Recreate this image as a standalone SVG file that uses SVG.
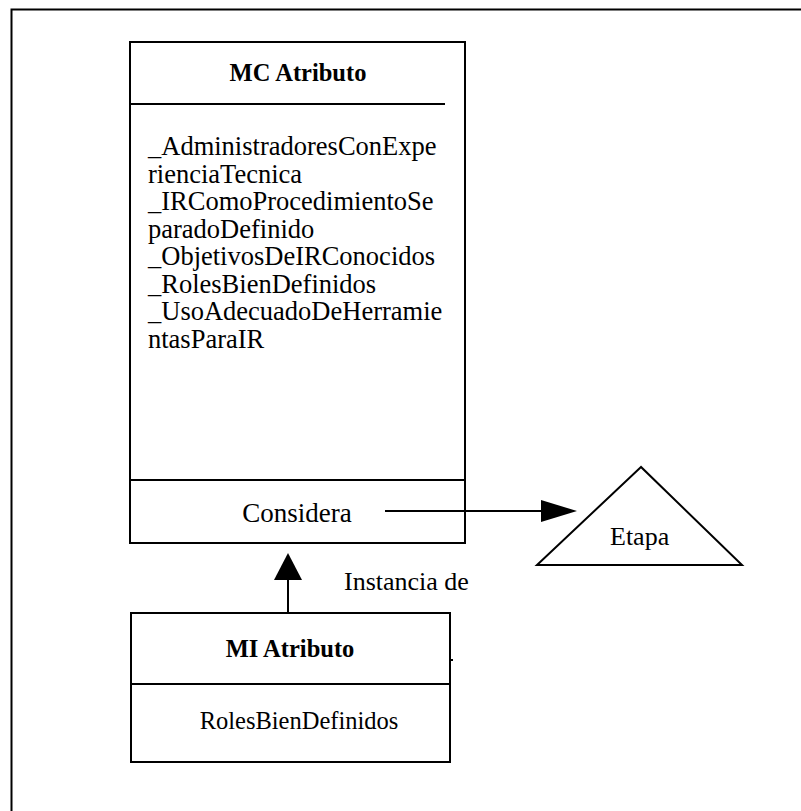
<svg xmlns="http://www.w3.org/2000/svg" width="801" height="811" viewBox="0 0 801 811">
  <style>
    .line { fill: none; stroke: #000; stroke-width: 2; }
    .box { fill: #fff; stroke: #000; stroke-width: 2; }
  </style>
  <rect width="801" height="811" fill="#fff"/>

  <!-- page frame (top and left edges) -->
  <path class="line" d="M11.5,811 V9.5 H801"/>

  <g font-family="Liberation Serif, Times New Roman, serif" fill="#000">
    <!-- class box: MC Atributo -->
    <g id="mc-atributo">
      <rect class="box" x="130" y="42" width="335" height="501"/>
      <line class="line" x1="130" y1="104" x2="445" y2="104"/>
      <line class="line" x1="130" y1="480" x2="465" y2="480"/>
      <text x="298" y="81" font-size="24.5" font-weight="bold" text-anchor="middle">MC Atributo</text>
      <text font-size="26.5">
        <tspan x="148" y="155">_AdministradoresConExpe</tspan>
        <tspan x="148" y="182.5">rienciaTecnica</tspan>
        <tspan x="148" y="210">_IRComoProcedimientoSe</tspan>
        <tspan x="148" y="237.5">paradoDefinido</tspan>
        <tspan x="148" y="265">_ObjetivosDeIRConocidos</tspan>
        <tspan x="148" y="292.5">_RolesBienDefinidos</tspan>
        <tspan x="148" y="320">_UsoAdecuadoDeHerramie</tspan>
        <tspan x="148" y="347.5">ntasParaIR</tspan>
      </text>
      <text x="297" y="522" font-size="27" text-anchor="middle">Considera</text>
    </g>

    <!-- stage: Etapa -->
    <g id="etapa">
      <polygon class="box" points="641,467 537,565 742,565"/>
      <text x="610" y="545" font-size="26">Etapa</text>
    </g>

    <!-- instance box: MI Atributo -->
    <g id="mi-atributo">
      <rect class="box" x="131" y="613" width="319" height="149"/>
      <line class="line" x1="131" y1="684" x2="450" y2="684"/>
      <line class="line" x1="450" y1="660" x2="453" y2="660"/>
      <text x="290" y="657" font-size="24.5" font-weight="bold" text-anchor="middle">MI Atributo</text>
      <text x="299" y="729" font-size="24.5" text-anchor="middle">RolesBienDefinidos</text>
    </g>

    <!-- connectors -->
    <g id="connectors">
      <line class="line" x1="385" y1="511" x2="545" y2="511"/>
      <polygon points="577,511 541,500 541,522" fill="#000"/>
      <line class="line" x1="288" y1="613" x2="288" y2="578"/>
      <polygon points="288,553 274,580 302,580" fill="#000"/>
      <text x="344" y="590" font-size="26">Instancia de</text>
    </g>
  </g>
</svg>
